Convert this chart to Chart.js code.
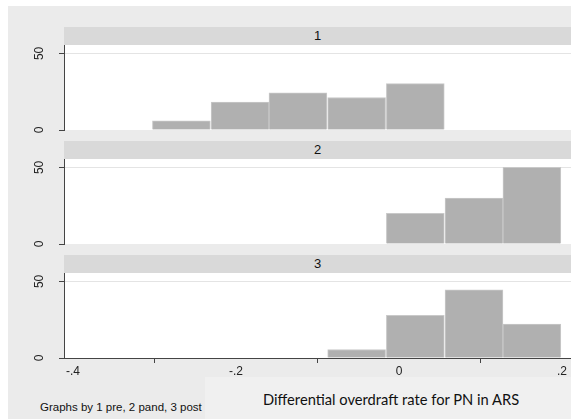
<!DOCTYPE html>
<html>
<head>
<meta charset="utf-8">
<script src="https://cdn.jsdelivr.net/npm/chart.js@4.4.1/dist/chart.umd.min.js"></script>
<style>
  html, body { margin: 0; padding: 0; background: #fff; }
  #page { position: relative; width: 571px; height: 419px; overflow: hidden; background: #fff;
          font-family: "Liberation Sans", Arial, sans-serif; }
  #bg { position: absolute; left: 8px; top: 6px; right: 0; bottom: 0; background: #ebebeb; }
  #titlebox { position: absolute; left: 205px; top: 377px; right: 0; bottom: 0; background: #f0f0f0; }
  .strip { position: absolute; left: 64px; width: 507px; height: 18px; background: #d9d9d9;
           color: #111; font-size: 13px; line-height: 17px; text-align: center; }
  .panel { position: absolute; left: 0; }
  #note { position: absolute; left: 40px; top: 401px; font-size: 11.5px; color: #111; white-space: nowrap; }
  #xtitle { position: absolute; left: 263px; top: 390px; font-family: Lato, "Open Sans", sans-serif;
            font-size: 14.7px; color: #111; white-space: nowrap; }
</style>
</head>
<body>
<div id="page">
  <div id="bg"></div>
  <div id="titlebox"></div>
  <div class="strip" id="strip1" style="top:27px">1</div>
  <div class="strip" id="strip2" style="top:141px">2</div>
  <div class="strip" id="strip3" style="top:255px">3</div>
  <canvas class="panel" id="panel1" width="571" height="101" style="top:37px"></canvas>
  <canvas class="panel" id="panel2" width="571" height="101" style="top:151px"></canvas>
  <canvas class="panel" id="panel3" width="571" height="115" style="top:265px"></canvas>
  <div id="note">Graphs by 1 pre, 2 pand, 3 post</div>
  <div id="xtitle">Differential overdraft rate for PN in ARS</div>
</div>
<script>
// histogram bins (centres, width ~.0717) and percent per bin
const binCenters = [-0.267, -0.195, -0.124, -0.052, 0.020, 0.092, 0.163];
const prePct  = [6.06, 18.18, 24.24, 21.21, 30.30, null, null];
const pandPct = [null, null, null, null, 20.0, 30.0, 50.0];
const postPct = [null, null, null, 5.56, 27.78, 44.44, 22.22];
const panelLabels = ['1', '2', '3'];
const yTicks = [0, 50];
const xTicks = [-0.4, -0.2, 0, 0.2];
const xTickLabels = ['-.4', '-.2', '0', '.2'];

const xMin = -0.411, xMax = 0.211;
const yMax = 55.5;
const tickFont = { family: 'Liberation Sans', size: 12 };

// white plot region
const plotBg = {
    id: 'plotBg',
    beforeDraw(chart) {
        const a = chart.chartArea;
        const c = chart.ctx;
        c.save();
        c.fillStyle = '#ffffff';
        c.fillRect(a.left, a.top, a.right - a.left, a.bottom - a.top);
        c.restore();
    }
};

function makePanel(canvasId, values, showX) {
    const points = [];
    binCenters.forEach((x, i) => {
        if (values[i] !== null) points.push({ x: x, y: values[i] });
    });

    return new Chart(document.getElementById(canvasId), {
        type: 'bar',
        data: {
            datasets: [{
                data: points,
                backgroundColor: '#b0b0b0',
                borderColor: '#c9c9c9',
                borderWidth: { top: 1, left: 1, right: 1, bottom: 0 },
                borderSkipped: false,
                barPercentage: 1,
                categoryPercentage: 1
            }]
        },
        options: {
            responsive: false,
            animation: false,
            layout: { padding: { top: 8, left: 0, right: 0, bottom: showX ? 0 : 8 } },
            plugins: { legend: { display: false }, tooltip: { enabled: false } },
            scales: {
                x: {
                    type: 'linear',
                    display: showX,
                    min: xMin,
                    max: xMax,
                    offset: false,
                    afterBuildTicks: s => { s.ticks = xTicks.map(v => ({ value: v })); },
                    afterFit: s => { if (showX) s.height = 22; },
                    border: { display: true, color: '#444', width: 1 },
                    grid: { drawOnChartArea: false, tickColor: '#444', tickLength: 5 },
                    ticks: {
                        padding: 1,
                        color: '#222',
                        font: tickFont,
                        maxRotation: 0,
                        autoSkip: false,
                        callback: (v, i) => xTickLabels[i]
                    }
                },
                y: {
                    min: 0,
                    max: yMax,
                    afterBuildTicks: s => { s.ticks = yTicks.map(v => ({ value: v })); },
                    afterFit: s => {
                        s.width = 64;
                        s.paddingTop = 0;
                        s.paddingBottom = 0;
                    },
                    border: { display: true, color: '#444', width: 1 },
                    grid: {
                        color: ctx => (ctx.tick && ctx.tick.value === 50) ? '#e4e4e4' : 'rgba(0,0,0,0)',
                        tickColor: '#444',
                        tickLength: 5
                    },
                    ticks: {
                        minRotation: 90,
                        maxRotation: 90,
                        crossAlign: 'center',
                        padding: 13,
                        color: '#222',
                        font: tickFont
                    }
                }
            }
        },
        plugins: [plotBg]
    });
}

makePanel('panel1', prePct, false);
makePanel('panel2', pandPct, false);
makePanel('panel3', postPct, true);
</script>
</body>
</html>
